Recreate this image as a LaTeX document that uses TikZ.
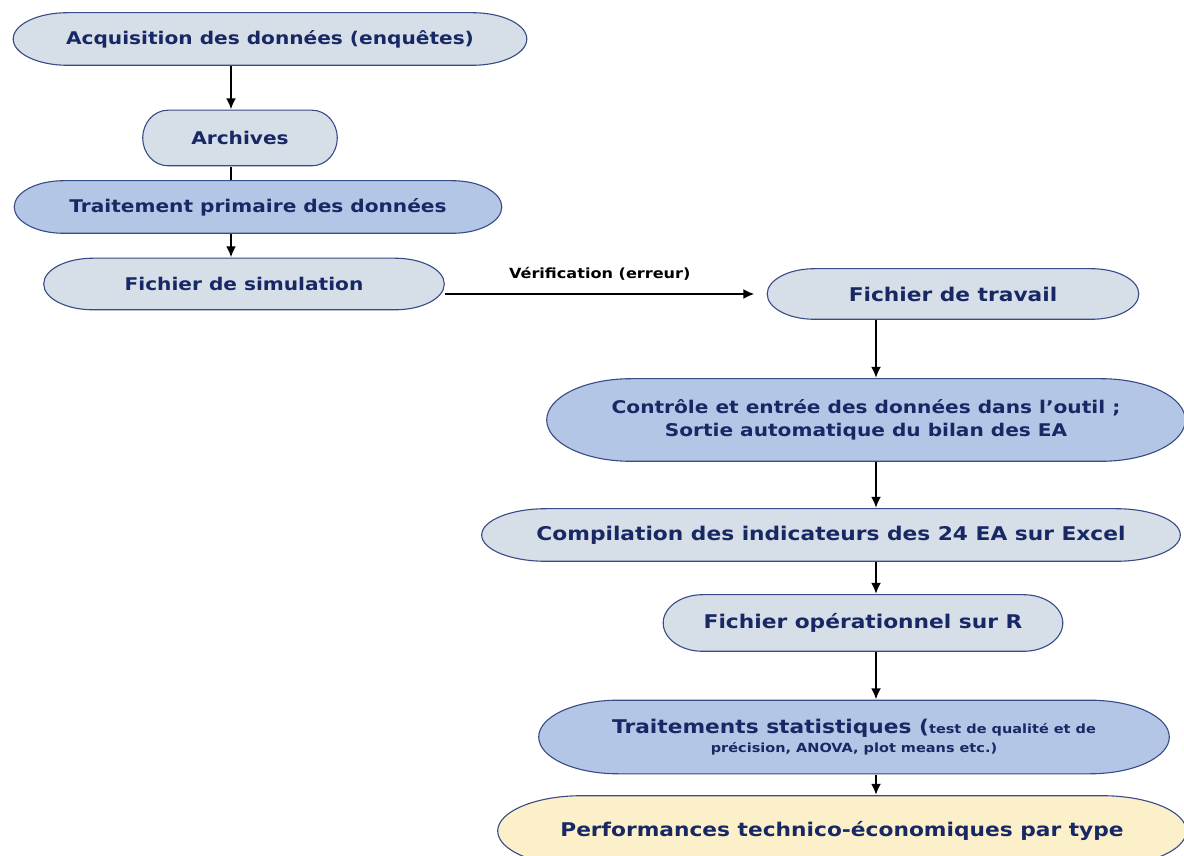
\documentclass[tikz,border=0pt]{standalone}
\usepackage{fontspec}
\setmainfont{DejaVu Sans}[FakeStretch=1.15]
\usepackage{tikz}
\usetikzlibrary{arrows.meta,calc}
\definecolor{navy}{RGB}{24, 40, 100}
\definecolor{rim}{RGB}{55, 75, 135}
\definecolor{lightbox}{RGB}{214, 222, 232}
\definecolor{midbox}{RGB}{180, 198, 230}
\definecolor{paleyellow}{RGB}{252, 240, 202}
\newcommand{\lefttxt}{\bfseries\fontsize{17.5}{23}\selectfont}
\newcommand{\righttxt}{\bfseries\fontsize{18.9}{23}\selectfont}
\newcommand{\smalltxt}{\bfseries\fontsize{12.6}{20}\selectfont}
\newcommand{\labeltxt}{\bfseries\fontsize{14}{16}\selectfont}
\tikzset{endrx/.store in=\endrx, endrx=50pt, boxfill/.store in=\boxfill, boxfill=lightbox}
\tikzstyle{pill} = [rectangle, inner sep=0pt, align=center, text=navy, font=\righttxt,
  path picture={
    \path[draw=rim, line width=1.1pt, fill=\boxfill]
      let \p1=(path picture bounding box.north west),
          \p2=(path picture bounding box.south east),
          \n1={(\y1-\y2)/2-0.7pt}, \n2={\endrx}, \n3={\endrx-0.7pt} in
      (\x1+\n2, \y1-0.7pt) -- (\x2-\n2, \y1-0.7pt)
      arc[start angle=90, end angle=-90, x radius=\n3, y radius=\n1]
      -- (\x1+\n2, \y2+0.7pt)
      arc[start angle=270, end angle=90, x radius=\n3, y radius=\n1] -- cycle;
  }]
\tikzstyle{datafile} = [pill, boxfill=lightbox]
\tikzstyle{process} = [pill, boxfill=midbox]
\tikzstyle{outcome} = [pill, boxfill=paleyellow]
\tikzstyle{textonly} = [draw=none, fill=none, text=black, font=\labeltxt]
\tikzstyle{tedge} = [draw, line width=1.8pt, >={Latex[length=11pt,width=10pt]}, ->]
\tikzstyle{tlink} = [draw, line width=1.8pt]

\begin{document}
\begin{tikzpicture}[x=1pt, y=1pt]
\useasboundingbox (0,0) rectangle (1184,855);

% left column =============================
\node[datafile, font=\lefttxt, minimum width=515pt, minimum height=54pt, endrx=55pt] (acq) at (270,816) {Acquisition des données (enquêtes)};
\node[datafile, font=\lefttxt, minimum width=196pt, minimum height=57pt, endrx=26pt] (arch) at (240,717) {Archives};
\node[process, font=\lefttxt, minimum width=489pt, minimum height=54pt, endrx=50pt] (prim) at (258,648) {Traitement primaire des données};
\node[datafile, font=\lefttxt, minimum width=402pt, minimum height=53pt, endrx=50pt] (simu) at (244,571) {Fichier de simulation};

% right column =============================
\node[datafile, minimum width=373pt, minimum height=52pt, endrx=48pt] (trav) at (953,561) {Fichier de travail};
\node[process, font=\lefttxt, minimum width=640pt, minimum height=84pt, endrx=85pt] (ctrl) at (866,435) {Contrôle et entrée des données dans l’outil ;\\ Sortie automatique du bilan des EA};
\node[datafile, minimum width=700pt, minimum height=54pt, endrx=65pt] (comp) at (831,320) {Compilation des indicateurs des 24 EA sur Excel};
\node[datafile, minimum width=401pt, minimum height=58pt, endrx=40pt] (oper) at (863,232) {Fichier opérationnel sur R};
\node[process, minimum width=632pt, minimum height=75pt, endrx=80pt] (stat) at (854,118) {Traitements statistiques ({\smalltxt test de qualité et de}\\[-4pt] {\smalltxt précision, ANOVA, plot means etc.)}};
\node[outcome, minimum width=690pt, minimum height=72pt, endrx=85pt] (perf) at (842,24) {Performances technico-économiques par type};

% edges
\coordinate (colL) at (231,0);
\coordinate (colR) at (876,0);
\path[tedge] (acq.south -| colL) -- (arch.north -| colL);
\path[tlink] (arch.south -| colL) -- (prim.north -| colL);
\path[tedge] (prim.south -| colL) -- (simu.north -| colL);
\path[tedge] (simu.east |- trav.west) -- ([xshift=-12pt]trav.west)
  node[textonly, midway, above=9pt] (verif) {Vérification (erreur)};
\path[tedge] (trav.south -| colR) -- (ctrl.north -| colR);
\path[tedge] (ctrl.south -| colR) -- (comp.north -| colR);
\path[tedge] (comp.south -| colR) -- (oper.north -| colR);
\path[tedge] (oper.south -| colR) -- (stat.north -| colR);
\path[tedge] (stat.south -| colR) -- (perf.north -| colR);

\end{tikzpicture}
\end{document}
